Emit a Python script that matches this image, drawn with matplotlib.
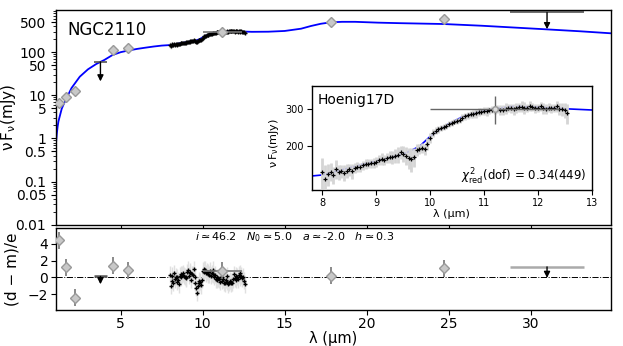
import matplotlib
matplotlib.use('Agg')
import matplotlib.pyplot as plt
import matplotlib.ticker as mticker
import numpy as np

# model SED (blue curve)
model_wl = [1.05, 1.1, 1.15, 1.2, 1.3, 1.4, 1.5, 1.7, 2.0, 2.5, 3.0, 3.5, 4.0, 4.5,
            5.0, 5.5, 6.0, 6.5, 7.0, 7.5, 8.0, 8.5, 9.0, 9.5, 9.8, 10.0, 10.3, 10.6,
            11.0, 11.5, 12.0, 12.5, 13.0, 14.0, 15.0, 16.0, 16.6, 17.2, 17.8, 18.5,
            19.3, 20.7, 22.0, 24.7, 27.0, 30.9, 33.0, 35.0]
model_flux = [0.78, 1.3, 1.9, 2.5, 3.5, 4.9, 6.0, 8.7, 14.8, 27, 40, 53, 66, 86,
              100, 110, 119, 127, 135, 142, 146, 158, 170, 183, 199, 222, 251, 275,
              294, 308, 306, 300, 296, 298, 310, 350, 404, 455, 491, 505,
              505, 483, 470, 449, 410, 339, 305, 272]

# photometry
phot_wl = [1.25, 1.65, 2.2, 4.5, 5.45, 11.2, 17.8, 24.7]
phot_flux = [6.8, 8.9, 12.6, 113, 124, 300, 491, 594]
phot_err = [1.0, 1.5, 2.0, 20, 22, 45, 40, 60]
phot_xerr = [0, 0, 0, 0, 0, 1.2, 0, 0]
phot_res = [4.4, 1.2, -2.4, 1.4, 0.85, 0.8, 0.2, 1.1]

# upper limits
ul_wl = [3.76, 31.0]
ul_flux = [59, 834]
ul_flux_end = [21, 340]
ul_xerr = [0.37, 2.25]
ul_res = [0.12, 1.25]
ul_res_end = [-0.8, -0.05]

# Hoenig17D spectrum
spec_wl = [8.00, 8.05, 8.10, 8.15, 8.20, 8.25, 8.30, 8.35, 8.40, 8.45,
           8.50, 8.55, 8.60, 8.65, 8.70, 8.75, 8.80, 8.85, 8.90, 8.95,
           9.00, 9.05, 9.10, 9.15, 9.20, 9.25, 9.30, 9.35, 9.40, 9.45,
           9.50, 9.55, 9.60, 9.65, 9.70, 9.75, 9.80, 9.85, 9.90, 9.95,
           10.00, 10.05, 10.10, 10.15, 10.20, 10.25, 10.30, 10.35, 10.40, 10.45,
           10.50, 10.55, 10.60, 10.65, 10.70, 10.75, 10.80, 10.85, 10.90, 10.95,
           11.00, 11.05, 11.10, 11.15, 11.20, 11.25, 11.30, 11.35, 11.40, 11.45,
           11.50, 11.55, 11.60, 11.65, 11.70, 11.75, 11.80, 11.85, 11.90, 11.95,
           12.00, 12.05, 12.10, 12.15, 12.20, 12.25, 12.30, 12.35, 12.40, 12.45,
           12.50, 12.55]
spec_flux = [150, 140, 147, 151, 146, 155, 150, 152, 149, 153,
             155, 152, 158, 160, 159, 162, 164, 165, 166, 167,
             168, 172, 174, 172, 176, 178, 177, 180, 182, 187,
             184, 180, 175, 173, 178, 192, 194, 196, 193, 205,
             218, 230, 236, 240, 243, 246, 250, 254, 257, 261,
             262, 266, 272, 276, 279, 282, 284, 286, 289, 291,
             293, 292, 295, 297, 296, 299, 297, 296, 300, 303,
             301, 299, 302, 305, 307, 304, 303, 310, 306, 301,
             303, 308, 302, 300, 304, 301, 303, 309, 300, 298,
             296, 285]
spec_err = [25, 22, 18, 15, 14, 16, 12, 11, 13, 12,
            10, 12, 9, 9, 8, 8, 9, 8, 8, 9,
            9, 10, 11, 9, 10, 12, 12, 14, 16, 14,
            16, 18, 20, 22, 18, 12, 10, 10, 12, 14,
            12, 10, 9, 9, 8, 8, 8, 9, 9, 8,
            9, 9, 10, 10, 11, 12, 12, 14, 13, 12,
            12, 14, 12, 12, 14, 12, 16, 16, 18, 14,
            16, 18, 16, 16, 18, 20, 14, 16, 12, 14,
            14, 16, 18, 16, 14, 16, 14, 18, 20, 22,
            25, 30]
spec_res = [0.3, -1.0, -0.4, 0.2, -0.6, 0.5, -0.2, 0.1, -0.5, 0.0,
            -0.3, -0.8, 0.2, 0.4, 0.0, 0.3, 0.5, 0.2, 0.1, -0.1,
            0.0, 0.6, 0.9, 0.2, 0.5, 0.7, -0.3, 0.4, 0.3, 1.0,
            0.1, -0.6, -1.2, -1.8, -1.0, -0.4, -0.7, -0.5, -0.9, -0.3,
            0.8, 1.0, 0.6, 0.9, 0.5, 0.7, 0.4, 0.6, 0.3, 0.8,
            0.2, 0.5, 0.9, 0.4, 0.1, 0.3, -0.2, 0.0, -0.3, -0.1,
            -0.2, -0.5, 0.1, 0.0, -0.4, -0.2, -0.6, -0.7, -0.3, 0.2,
            -0.5, -0.8, -0.6, -0.4, -0.7, -0.5, -0.6, -0.2, 0.4, -0.1,
            -0.3, 0.2, 0.1, -0.2, 0.3, 0.0, 0.5, 0.2, -0.1, 0.1,
            -0.4, -0.8]

main_yticks = [0.01, 0.05, 0.1, 0.5, 1, 5, 10, 50, 100, 500]
main_yticklabels = ['0.01', '0.05', '0.1', '0.5', '1', '5', '10', '50', '100', '500']

dia = dict(fmt='D', mfc='#c8c8c8', mec='#999999', ms=5.5, ecolor='#777777', elinewidth=1.2)

fig = plt.figure(figsize=(6.23, 3.46), dpi=100)
ax = fig.add_axes([0.0899, 0.3506, 0.8908, 0.6194])
axr = fig.add_axes([0.0899, 0.105, 0.8908, 0.235])
axi = fig.add_axes([0.5003, 0.4509, 0.4494, 0.2997])

# main panel
ax.plot(model_wl, model_flux, color='blue', lw=1.3, zorder=2)
ax.errorbar(spec_wl, spec_flux, yerr=spec_err, fmt='+', color='k', ms=3, mew=1,
            ecolor='#dddddd', elinewidth=1, zorder=3)
ax.errorbar(phot_wl, phot_flux, yerr=phot_err, xerr=phot_xerr, zorder=4, **dia)
ax.errorbar(ul_wl, ul_flux, xerr=ul_xerr, fmt='none', ecolor='#555555', elinewidth=1.2)
for x, y0, y1 in zip(ul_wl, ul_flux, ul_flux_end):
    ax.annotate('', xy=(x, y1), xytext=(x, y0),
                arrowprops=dict(arrowstyle='-|>', color='k', lw=1, mutation_scale=9,
                                shrinkA=0, shrinkB=0))
ax.set_yscale('log')
ax.set_ylim(0.01, 930)
ax.set_xlim(1.05, 34.9)
ax.yaxis.set_major_locator(mticker.FixedLocator(main_yticks))
ax.set_yticklabels(main_yticklabels)
ax.yaxis.set_minor_locator(mticker.LogLocator(subs=np.arange(2, 10)))
ax.yaxis.set_minor_formatter(mticker.NullFormatter())
ax.set_xticks([5, 10, 15, 20, 25, 30])
ax.set_xticklabels([])
ax.tick_params(labelsize=10)
ax.set_ylabel(r'$\mathrm{\nu\,F_\nu}$(mJy)', fontsize=11)
ax.yaxis.set_label_coords(-0.068, 0.5)
ax.text(0.02, 0.91, 'NGC2110', transform=ax.transAxes, fontsize=12, va='center')

# inset
axi.plot(model_wl, model_flux, color='blue', lw=1.2, zorder=2)
axi.errorbar(spec_wl, spec_flux, yerr=spec_err, fmt='+', color='k', ms=3.5, mew=0.9,
             ecolor='#d5d5d5', elinewidth=2, zorder=3)
axi.errorbar([phot_wl[5]], [phot_flux[5]], yerr=[phot_err[5]], xerr=[phot_xerr[5]],
             fmt='o', mfc='#dddddd', mec='#999999', ms=4, ecolor='#666666', elinewidth=1,
             zorder=4)
axi.set_yscale('log')
axi.set_xlim(7.8, 13)
axi.set_ylim(124, 383)
axi.yaxis.set_major_locator(mticker.FixedLocator([200, 300]))
axi.yaxis.set_major_formatter(mticker.FixedFormatter(['200', '300']))
axi.yaxis.set_minor_locator(mticker.NullLocator())
axi.set_xticks([8, 9, 10, 11, 12, 13])
axi.tick_params(labelsize=7, pad=2)
axi.set_xlabel('λ (μm)', fontsize=8, labelpad=1)
axi.set_ylabel(r'$\mathrm{\nu\,F_\nu}$(mJy)', fontsize=8)
axi.yaxis.set_label_coords(-0.11, 0.45)
axi.text(0.02, 0.87, 'Hoenig17D', transform=axi.transAxes, fontsize=10, va='center')
axi.text(0.98, 0.13, r'$\chi^2_{\rm red}$(dof) = 0.34(449)', transform=axi.transAxes,
         fontsize=8.5, ha='right', va='center')

# residuals
axr.axhline(0, color='k', ls='-.', lw=0.7, zorder=1)
axr.errorbar(spec_wl, spec_res, yerr=1, fmt='+', color='k', ms=3.5, mew=1,
             ecolor='#e0e0e0', elinewidth=1, zorder=3)
axr.errorbar(phot_wl, phot_res, yerr=1, xerr=phot_xerr, zorder=4, **dia)
axr.errorbar(ul_wl, ul_res, xerr=ul_xerr, fmt='none', ecolor=['#555555', '#aaaaaa'],
             elinewidth=1.8)
for x, y0, y1 in zip(ul_wl, ul_res, ul_res_end):
    axr.annotate('', xy=(x, y1), xytext=(x, y0),
                 arrowprops=dict(arrowstyle='-|>', color='k', lw=1, mutation_scale=9,
                                 shrinkA=0, shrinkB=0))
axr.set_xlim(1.05, 34.9)
axr.set_ylim(-3.8, 5.8)
axr.set_yticks([-2, 0, 2, 4])
axr.set_xticks([5, 10, 15, 20, 25, 30])
axr.tick_params(labelsize=10, pad=2)
axr.set_xlabel('λ (μm)', fontsize=10.5, labelpad=0)
axr.set_ylabel('(d − m)/e', fontsize=11)
axr.yaxis.set_label_coords(-0.065, 0.5)
axr.text(0.43, 0.89, r'$i \simeq 46.2$   $N_0 \simeq 5.0$   $a \simeq$-2.0   $h \simeq 0.3$',
         transform=axr.transAxes, fontsize=8, ha='center', va='center')

for a in (ax, axr, axi):
    for s in a.spines.values():
        s.set_linewidth(1.0)

fig.savefig('out.png', dpi=100)
